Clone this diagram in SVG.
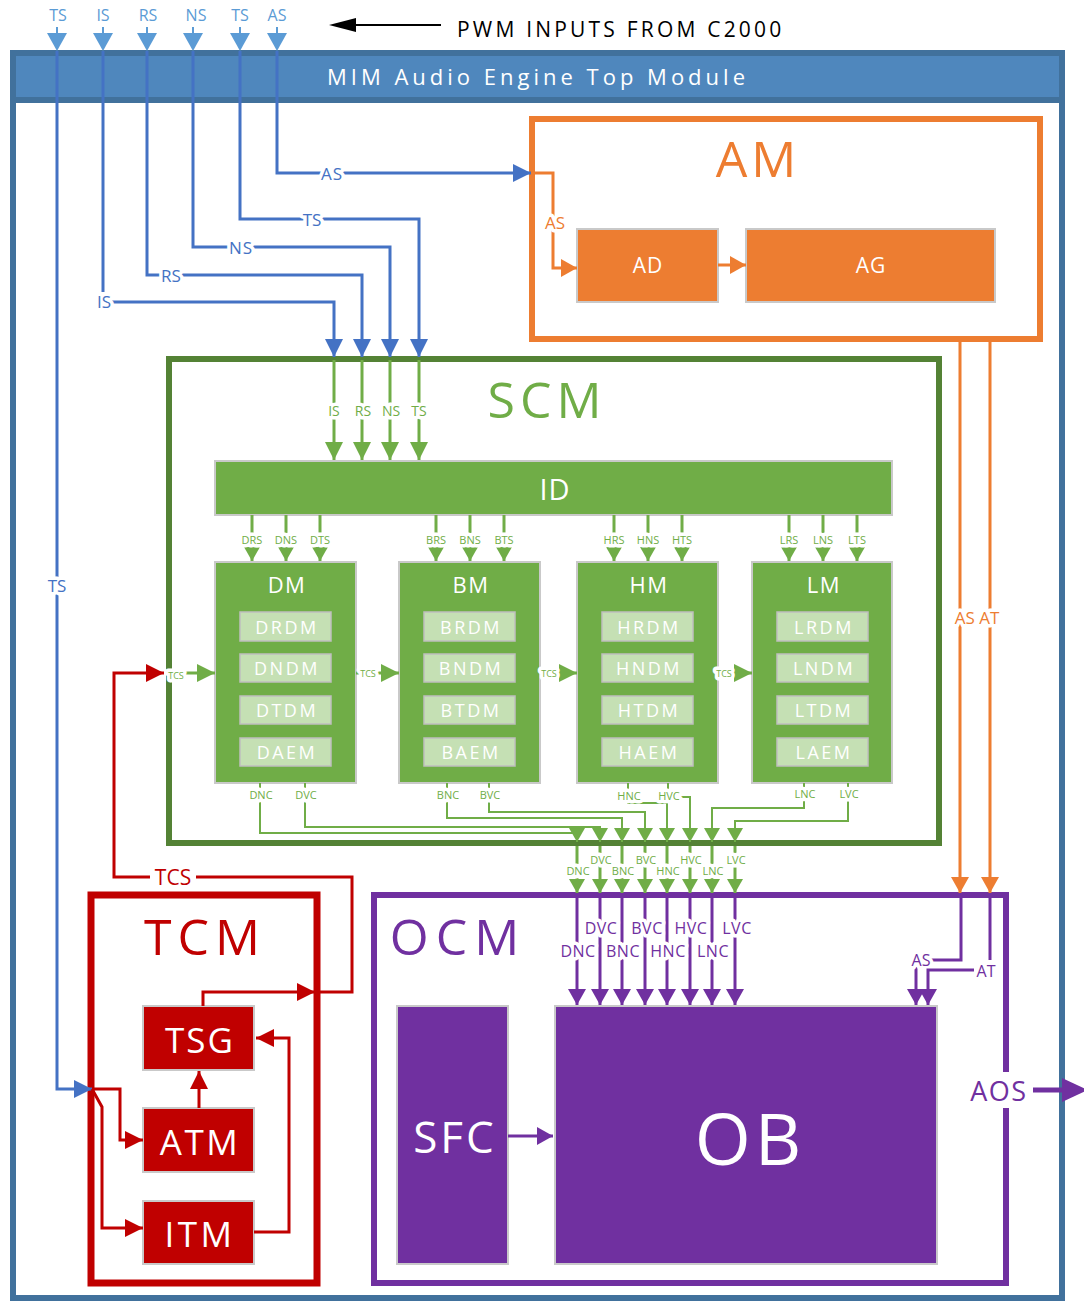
<svg xmlns="http://www.w3.org/2000/svg" width="1084" height="1302" viewBox="0 0 1084 1302">
<style>
text{font-family:"Open Sans","Noto Sans","DejaVu Sans",sans-serif;text-anchor:middle;dominant-baseline:central}
.halo{paint-order:stroke;stroke:#fff;stroke-width:7px;stroke-linejoin:round}
.bl{fill:none;stroke:#4472C4;stroke-width:3}
.gr{fill:none;stroke:#70AD47;stroke-width:3}
.grt{fill:none;stroke:#70AD47;stroke-width:2}
.or{fill:none;stroke:#ED7D31;stroke-width:3}
.pu{fill:none;stroke:#7030A0;stroke-width:3}
.rd{fill:none;stroke:#C00000;stroke-width:3}
.tb{fill:#4472C4;font-size:17px}
.tg{fill:#70AD47}
.tp{fill:#7030A0}
.wt{fill:#fff}
.gbox{fill:#70AD47;stroke:#C9C9C9;stroke-width:2}
.sub{fill:#C5E0B4;stroke:#BFBFBF;stroke-width:1.5}
.subt{fill:#fff;font-size:18px;letter-spacing:2.5px}
.obox{fill:#ED7D31;stroke:#C9C9C9;stroke-width:2}
.rbox{fill:#C00000;stroke:#C9C9C9;stroke-width:2}
.pbox{fill:#7030A0;stroke:#C9C9C9;stroke-width:2}
</style>
<defs>
<marker id="mb" markerUnits="userSpaceOnUse" markerWidth="18" markerHeight="18" refX="18" refY="9" orient="auto"><path d="M0,0 L18,9 L0,18 z" fill="#4472C4"/></marker>
<marker id="mg" markerUnits="userSpaceOnUse" markerWidth="18" markerHeight="18" refX="18" refY="9" orient="auto"><path d="M0,0 L18,9 L0,18 z" fill="#70AD47"/></marker>
<marker id="mgs" markerUnits="userSpaceOnUse" markerWidth="14" markerHeight="16" refX="14" refY="8" orient="auto"><path d="M0,0 L14,8 L0,16 z" fill="#70AD47"/></marker>
<marker id="mo" markerUnits="userSpaceOnUse" markerWidth="16" markerHeight="18" refX="16" refY="9" orient="auto"><path d="M0,0 L16,9 L0,18 z" fill="#ED7D31"/></marker>
<marker id="mp" markerUnits="userSpaceOnUse" markerWidth="16" markerHeight="18" refX="16" refY="9" orient="auto"><path d="M0,0 L16,9 L0,18 z" fill="#7030A0"/></marker>
<marker id="mr" markerUnits="userSpaceOnUse" markerWidth="18" markerHeight="18" refX="18" refY="9" orient="auto"><path d="M0,0 L18,9 L0,18 z" fill="#C00000"/></marker>
</defs>

<rect width="1084" height="1302" fill="#fff"/>

<!-- top title -->
<g id="pwm-title">
<line x1="441" y1="25" x2="350" y2="25" stroke="#000" stroke-width="2"/>
<polygon points="329,25 356,18 356,32" fill="#000"/>
<text x="457" y="29" style="text-anchor:start;font-size:21px;letter-spacing:3.2px" fill="#000">PWM INPUTS FROM C2000</text>
</g>

<!-- outer module -->
<g id="top-module">
<rect x="13" y="53" width="1049" height="1245" fill="#fff" stroke="#41719C" stroke-width="6"/>
<rect x="13" y="53" width="1049" height="47" fill="#4F87BD" stroke="#41719C" stroke-width="6"/>
<text x="538" y="76" class="wt" style="font-size:22px;letter-spacing:4px">MIM Audio Engine Top Module</text>
</g>

<!-- AM -->
<g id="AM">
<rect x="532" y="119" width="508" height="220" fill="#fff" stroke="#ED7D31" stroke-width="6"/>
<text x="758" y="158" fill="#ED7D31" style="font-size:50px;letter-spacing:4px">AM</text>
</g>
<g id="AD"><rect x="577" y="229" width="141" height="73" class="obox"/><text x="648" y="265" class="wt" style="font-size:21px;letter-spacing:1px">AD</text></g>
<g id="AG"><rect x="746" y="229" width="249" height="73" class="obox"/><text x="871" y="265" class="wt" style="font-size:21px;letter-spacing:1px">AG</text></g>

<!-- SCM -->
<g id="SCM">
<rect x="169" y="359" width="770" height="484" fill="#fff" stroke="#548235" stroke-width="6"/>
<text x="547" y="399" fill="#70AD47" style="font-size:50px;letter-spacing:5px">SCM</text>
</g>
<g id="ID"><rect x="215" y="461" width="677" height="54" class="gbox"/><text x="555" y="488" class="wt" style="font-size:29px;letter-spacing:1px">ID</text></g>

<g id="DM">
<rect x="215" y="562" width="141" height="221" class="gbox"/>
<text x="287" y="584" class="wt" style="font-size:22px;letter-spacing:1.5px">DM</text>
<rect x="240" y="612" width="91" height="29" class="sub"/><text x="287" y="627" class="subt">DRDM</text>
<rect x="240" y="654" width="91" height="28" class="sub"/><text x="287" y="668" class="subt">DNDM</text>
<rect x="240" y="696" width="91" height="28" class="sub"/><text x="287" y="710" class="subt">DTDM</text>
<rect x="240" y="738" width="91" height="28" class="sub"/><text x="287" y="752" class="subt">DAEM</text>
</g>
<g id="BM">
<rect x="399" y="562" width="141" height="221" class="gbox"/>
<text x="471" y="584" class="wt" style="font-size:22px;letter-spacing:1.5px">BM</text>
<rect x="424" y="612" width="91" height="29" class="sub"/><text x="471" y="627" class="subt">BRDM</text>
<rect x="424" y="654" width="91" height="28" class="sub"/><text x="471" y="668" class="subt">BNDM</text>
<rect x="424" y="696" width="91" height="28" class="sub"/><text x="471" y="710" class="subt">BTDM</text>
<rect x="424" y="738" width="91" height="28" class="sub"/><text x="471" y="752" class="subt">BAEM</text>
</g>
<g id="HM">
<rect x="577" y="562" width="141" height="221" class="gbox"/>
<text x="649" y="584" class="wt" style="font-size:22px;letter-spacing:1.5px">HM</text>
<rect x="602" y="612" width="91" height="29" class="sub"/><text x="649" y="627" class="subt">HRDM</text>
<rect x="602" y="654" width="91" height="28" class="sub"/><text x="649" y="668" class="subt">HNDM</text>
<rect x="602" y="696" width="91" height="28" class="sub"/><text x="649" y="710" class="subt">HTDM</text>
<rect x="602" y="738" width="91" height="28" class="sub"/><text x="649" y="752" class="subt">HAEM</text>
</g>
<g id="LM">
<rect x="752" y="562" width="140" height="221" class="gbox"/>
<text x="824" y="584" class="wt" style="font-size:22px;letter-spacing:1.5px">LM</text>
<rect x="777" y="612" width="91" height="29" class="sub"/><text x="824" y="627" class="subt">LRDM</text>
<rect x="777" y="654" width="91" height="28" class="sub"/><text x="824" y="668" class="subt">LNDM</text>
<rect x="777" y="696" width="91" height="28" class="sub"/><text x="824" y="710" class="subt">LTDM</text>
<rect x="777" y="738" width="91" height="28" class="sub"/><text x="824" y="752" class="subt">LAEM</text>
</g>

<!-- TCM -->
<g id="TCM">
<rect x="91" y="895" width="226" height="388" fill="#fff" stroke="#C00000" stroke-width="7"/>
<text x="205" y="936" fill="#C00000" style="font-size:50px;letter-spacing:6px">TCM</text>
</g>
<g id="TSG"><rect x="143" y="1006" width="111" height="64" class="rbox"/><text x="200" y="1039" class="wt" style="font-size:35px;letter-spacing:2px">TSG</text></g>
<g id="ATM"><rect x="143" y="1108" width="111" height="64" class="rbox"/><text x="200" y="1141" class="wt" style="font-size:35px;letter-spacing:2.5px">ATM</text></g>
<g id="ITM"><rect x="143" y="1201" width="111" height="63" class="rbox"/><text x="200" y="1233" class="wt" style="font-size:35px;letter-spacing:3.5px">ITM</text></g>

<!-- OCM -->
<g id="OCM">
<rect x="374" y="895" width="632" height="388" fill="#fff" stroke="#7030A0" stroke-width="6"/>
<text x="458" y="936" fill="#7030A0" style="font-size:50px;letter-spacing:7px">OCM</text>
</g>
<g id="SFC"><rect x="397" y="1006" width="111" height="258" class="pbox"/><text x="455" y="1136" class="wt" style="font-size:44px;letter-spacing:3px">SFC</text></g>
<g id="OB"><rect x="555" y="1006" width="382" height="258" class="pbox"/><text x="750" y="1137" class="wt" style="font-size:72px;letter-spacing:4px">OB</text></g>

<!-- connectors -->
<g id="connectors">
<!-- top input arrows -->
<g fill="#5B9BD5">
<polygon points="47,33 67,33 57,51"/><polygon points="93,33 113,33 103,51"/><polygon points="137,33 157,33 147,51"/>
<polygon points="183,33 203,33 193,51"/><polygon points="230,33 250,33 240,51"/><polygon points="267,33 287,33 277,51"/>
</g>
<g stroke="#5B9BD5" stroke-width="2"><line x1="57" y1="27" x2="57" y2="34"/><line x1="103" y1="27" x2="103" y2="34"/><line x1="147" y1="27" x2="147" y2="34"/><line x1="193" y1="27" x2="193" y2="34"/><line x1="240" y1="27" x2="240" y2="34"/><line x1="277" y1="27" x2="277" y2="34"/></g>
<g fill="#5B9BD5" style="font-size:16px">
<text x="58" y="15">TS</text><text x="103" y="15">IS</text><text x="148" y="15">RS</text><text x="196" y="15">NS</text><text x="240" y="15">TS</text><text x="277" y="15">AS</text>
</g>

<!-- blue lines -->
<path class="bl" d="M57,51 V1089 H92" marker-end="url(#mb)"/>
<path class="bl" d="M103,51 V292"/>
<path class="bl" d="M112,302 H334 V357" marker-end="url(#mb)"/>
<path class="bl" d="M147,51 V275 H362 V357" marker-end="url(#mb)"/>
<path class="bl" d="M193,51 V247 H390 V357" marker-end="url(#mb)"/>
<path class="bl" d="M240,51 V219 H419 V357" marker-end="url(#mb)"/>
<path class="bl" d="M277,51 V173 H531" marker-end="url(#mb)"/>
<text x="104" y="301" class="tb halo">IS</text>
<text x="171" y="275" class="tb halo">RS</text>
<text x="241" y="247" class="tb halo" style="letter-spacing:1px">NS</text>
<text x="312" y="219" class="tb halo">TS</text>
<text x="332" y="173" class="tb halo" style="letter-spacing:1px">AS</text>
<text x="57" y="585" class="tb halo">TS</text>

<!-- orange -->
<path class="or" d="M531,173 H553 V268 H577" marker-end="url(#mo)"/>
<text x="555" y="222" fill="#ED7D31" class="halo" style="font-size:17px">AS</text>
<path class="or" d="M718,265 H746" marker-end="url(#mo)"/>
<path class="or" d="M960,341 V893" marker-end="url(#mo)"/>
<path class="or" d="M990,341 V893" marker-end="url(#mo)"/>
<text x="977" y="617" fill="#ED7D31" class="halo" style="font-size:17px">AS AT</text>

<!-- green inputs to ID -->
<path class="gr" d="M334,360 V460" marker-end="url(#mg)"/>
<path class="gr" d="M362,360 V460" marker-end="url(#mg)"/>
<path class="gr" d="M390,360 V460" marker-end="url(#mg)"/>
<path class="gr" d="M419,360 V460" marker-end="url(#mg)"/>
<g class="tg" style="font-size:14px">
<text x="334" y="410" class="halo">IS</text><text x="363" y="410" class="halo">RS</text><text x="391" y="410" class="halo">NS</text><text x="419" y="410" class="halo">TS</text>
</g>

<!-- ID outputs -->
<g>
<path class="gr" d="M252,515 V561" marker-end="url(#mgs)"/><path class="gr" d="M286,515 V561" marker-end="url(#mgs)"/><path class="gr" d="M320,515 V561" marker-end="url(#mgs)"/>
<path class="gr" d="M436,515 V561" marker-end="url(#mgs)"/><path class="gr" d="M470,515 V561" marker-end="url(#mgs)"/><path class="gr" d="M504,515 V561" marker-end="url(#mgs)"/>
<path class="gr" d="M614,515 V561" marker-end="url(#mgs)"/><path class="gr" d="M648,515 V561" marker-end="url(#mgs)"/><path class="gr" d="M682,515 V561" marker-end="url(#mgs)"/>
<path class="gr" d="M789,515 V561" marker-end="url(#mgs)"/><path class="gr" d="M823,515 V561" marker-end="url(#mgs)"/><path class="gr" d="M857,515 V561" marker-end="url(#mgs)"/>
</g>
<g class="tg" style="font-size:11px">
<text x="252" y="539" class="halo">DRS</text><text x="286" y="539" class="halo">DNS</text><text x="320" y="539" class="halo">DTS</text>
<text x="436" y="539" class="halo">BRS</text><text x="470" y="539" class="halo">BNS</text><text x="504" y="539" class="halo">BTS</text>
<text x="614" y="539" class="halo">HRS</text><text x="648" y="539" class="halo">HNS</text><text x="682" y="539" class="halo">HTS</text>
<text x="789" y="539" class="halo">LRS</text><text x="823" y="539" class="halo">LNS</text><text x="857" y="539" class="halo">LTS</text>
</g>

<!-- TCS chain -->
<path class="gr" d="M172,673 H215" marker-end="url(#mg)"/>
<path class="gr" d="M356,673 H399" marker-end="url(#mg)"/>
<path class="gr" d="M540,673 H577" marker-end="url(#mg)"/>
<path class="gr" d="M718,673 H752" marker-end="url(#mg)"/>
<g class="tg" style="font-size:9px">
<text x="176" y="675" class="halo">TCS</text><text x="368" y="673" class="halo">TCS</text><text x="549" y="673" class="halo">TCS</text><text x="724" y="673" class="halo">TCS</text>
</g>

<!-- module outputs -->
<path class="grt" d="M260,783 V833 H577 V842" marker-end="url(#mgs)"/>
<path class="grt" d="M305,783 V827 H600 V842" marker-end="url(#mgs)"/>
<path class="grt" d="M447,783 V818 H622 V842" marker-end="url(#mgs)"/>
<path class="grt" d="M489,783 V812 H645 V842" marker-end="url(#mgs)"/>
<path class="grt" d="M628,783 V803 H667 V842" marker-end="url(#mgs)"/>
<path class="grt" d="M668,783 V797 H690 V842" marker-end="url(#mgs)"/>
<path class="grt" d="M804,783 V808 H712 V842" marker-end="url(#mgs)"/>
<path class="grt" d="M848,783 V821 H735 V842" marker-end="url(#mgs)"/>
<g class="tg" style="font-size:11px">
<text x="261" y="794" class="halo">DNC</text><text x="306" y="794" class="halo">DVC</text>
<text x="448" y="794" class="halo">BNC</text><text x="490" y="794" class="halo">BVC</text>
<text x="629" y="795" class="halo">HNC</text><text x="669" y="795" class="halo">HVC</text>
<text x="805" y="793" class="halo">LNC</text><text x="849" y="793" class="halo">LVC</text>
</g>
<g>
<path class="gr" d="M577,846 V893" marker-end="url(#mgs)"/><path class="gr" d="M600,846 V893" marker-end="url(#mgs)"/>
<path class="gr" d="M622,846 V893" marker-end="url(#mgs)"/><path class="gr" d="M645,846 V893" marker-end="url(#mgs)"/>
<path class="gr" d="M667,846 V893" marker-end="url(#mgs)"/><path class="gr" d="M690,846 V893" marker-end="url(#mgs)"/>
<path class="gr" d="M712,846 V893" marker-end="url(#mgs)"/><path class="gr" d="M735,846 V893" marker-end="url(#mgs)"/>
</g>
<g class="tg" style="font-size:11px">
<text x="601" y="859" class="halo">DVC</text><text x="646" y="859" class="halo">BVC</text><text x="691" y="859" class="halo">HVC</text><text x="736" y="859" class="halo">LVC</text>
<text x="578" y="870" class="halo">DNC</text><text x="623" y="870" class="halo">BNC</text><text x="668" y="870" class="halo">HNC</text><text x="713" y="870" class="halo">LNC</text>
</g>

<!-- purple into OB -->
<g>
<path class="pu" d="M577,898 V1005" marker-end="url(#mp)"/><path class="pu" d="M600,898 V1005" marker-end="url(#mp)"/>
<path class="pu" d="M622,898 V1005" marker-end="url(#mp)"/><path class="pu" d="M645,898 V1005" marker-end="url(#mp)"/>
<path class="pu" d="M667,898 V1005" marker-end="url(#mp)"/><path class="pu" d="M690,898 V1005" marker-end="url(#mp)"/>
<path class="pu" d="M712,898 V1005" marker-end="url(#mp)"/><path class="pu" d="M735,898 V1005" marker-end="url(#mp)"/>
</g>
<g class="tp" style="font-size:16px;letter-spacing:0.5px">
<text x="601" y="928" class="halo">DVC</text><text x="647" y="928" class="halo">BVC</text><text x="691" y="928" class="halo">HVC</text><text x="737" y="928" class="halo">LVC</text>
<text x="578" y="951" class="halo">DNC</text><text x="623" y="951" class="halo">BNC</text><text x="668" y="951" class="halo">HNC</text><text x="713" y="951" class="halo">LNC</text>
</g>
<path class="pu" d="M961,898 V960 H930"/>
<path class="pu" d="M916,967 V1005" marker-end="url(#mp)"/>
<text x="921" y="960" class="tp halo" style="font-size:16px">AS</text>
<path class="pu" d="M990,898 V960"/>
<path class="pu" d="M974,970 H928 V1005" marker-end="url(#mp)"/>
<text x="986" y="971" class="tp halo" style="font-size:16px">AT</text>
<path class="pu" d="M508,1136 H553" marker-end="url(#mp)"/>
<rect x="962" y="1072" width="72" height="36" fill="#fff"/>
<text x="999" y="1090" class="tp" style="font-size:27px;letter-spacing:1.5px">AOS</text>
<line x1="1033" y1="1090" x2="1066" y2="1090" stroke="#7030A0" stroke-width="5"/>
<polygon points="1062,1078 1088,1090 1062,1102" fill="#7030A0"/>

<!-- red -->
<path class="rd" d="M203,1006 V992 H315" marker-end="url(#mr)"/>
<path class="rd" d="M317,992 H352 V877 H114 V673 H164" marker-end="url(#mr)"/>
<rect x="150" y="865" width="46" height="24" fill="#fff"/>
<text x="173" y="877" fill="#C00000" style="font-size:21px">TCS</text>
<path class="rd" d="M199,1108 V1071" marker-end="url(#mr)"/>
<path class="rd" d="M92,1089 H120 V1140 H143" marker-end="url(#mr)"/>
<path class="rd" d="M92,1089 L102,1107 V1228 H143" marker-end="url(#mr)"/>
<path class="rd" d="M254,1232 H289 V1038 H256" marker-end="url(#mr)"/>
</g>
</svg>
